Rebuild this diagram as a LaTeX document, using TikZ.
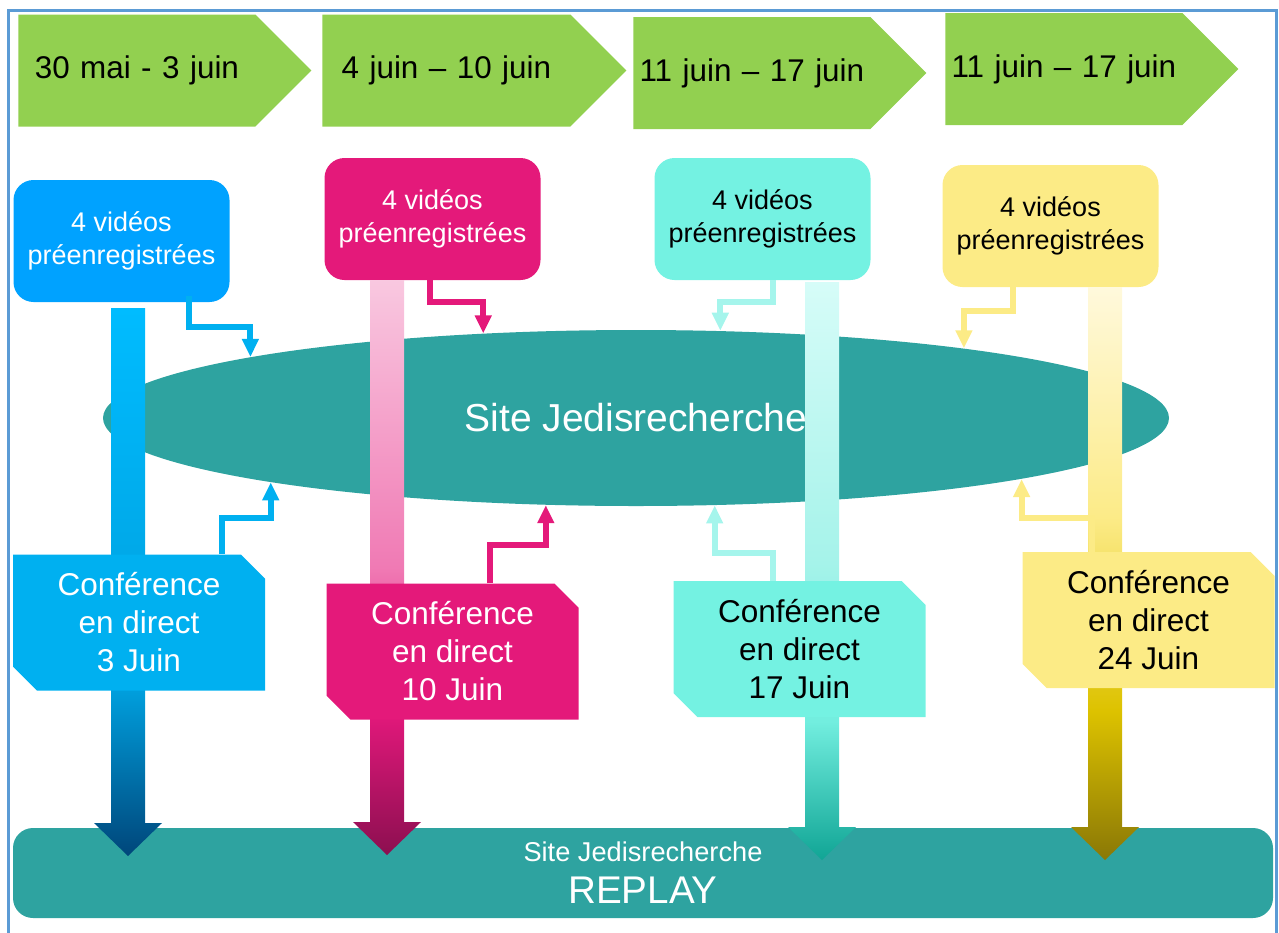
\documentclass[tikz,border=0pt]{standalone}
\usepackage{fontspec}
\setmainfont{Liberation Sans}
\usetikzlibrary{shapes.misc,shapes.symbols,shapes.geometric,arrows.meta,calc}
\definecolor{weekgreen}{HTML}{92D050}
\definecolor{framecol}{HTML}{5B9BD5}
\definecolor{siteteal}{HTML}{2EA3A0}
\definecolor{vblue}{HTML}{00A2FF}
\definecolor{cblue}{HTML}{00B0F0}
\definecolor{jmagenta}{HTML}{E4197A}
\definecolor{jturq}{HTML}{74F2E2}
\definecolor{eturq}{HTML}{A5F5EC}
\definecolor{jyellow}{HTML}{FCEB86}
\definecolor{barblueA}{HTML}{00467A}
\definecolor{barblueB}{HTML}{009EDC}
\definecolor{barblueC}{HTML}{00BCFF}
\definecolor{barpinkA}{HTML}{8C0F50}
\definecolor{barpinkB}{HTML}{E0187A}
\definecolor{barpinkC}{HTML}{F07AB4}
\definecolor{barpinkD}{HTML}{F9C8E0}
\definecolor{barturqA}{HTML}{10A595}
\definecolor{barturqB}{HTML}{72EEDF}
\definecolor{barturqC}{HTML}{A6F3EA}
\definecolor{barturqD}{HTML}{D6FCF8}
\definecolor{baryelA}{HTML}{8A7806}
\definecolor{baryelB}{HTML}{DDC200}
\definecolor{baryelC}{HTML}{FCEB88}
\definecolor{baryelD}{HTML}{FFF9DC}
\pgfdeclareverticalshading{barblue}{100bp}{color(0bp)=(barblueA); color(25bp)=(barblueA); color(40bp)=(barblueB); color(75bp)=(barblueC); color(100bp)=(barblueC)}
\pgfdeclareverticalshading{barpink}{100bp}{color(0bp)=(barpinkA); color(25bp)=(barpinkA); color(37bp)=(barpinkB); color(50bp)=(barpinkC); color(75bp)=(barpinkD); color(100bp)=(barpinkD)}
\pgfdeclareverticalshading{barturq}{100bp}{color(0bp)=(barturqA); color(25bp)=(barturqA); color(37bp)=(barturqB); color(51bp)=(barturqC); color(75bp)=(barturqD); color(100bp)=(barturqD)}
\pgfdeclareverticalshading{baryellow}{100bp}{color(0bp)=(baryelA); color(25bp)=(baryelA); color(38bp)=(baryelB); color(55bp)=(baryelC); color(75bp)=(baryelD); color(100bp)=(baryelD)}
\tikzset{
    week-box/.style = {signal, signal to=east, signal pointer angle=90, fill=weekgreen, inner xsep=0pt, minimum height=56pt, align=center, font=\fontsize{15.7}{19}\selectfont},
    video-box/.style = {fill=#1, rounded corners=10pt, minimum width=108pt, minimum height=61pt, inner sep=0pt, align=center, font=\fontsize{13.5}{16.5}\selectfont},
    conf-box/.style = {chamfered rectangle, chamfered rectangle corners={north east,south west}, chamfered rectangle xsep=5.5pt, chamfered rectangle ysep=6.5pt, fill=#1, minimum width=126pt, minimum height=68pt, inner sep=0pt, align=center, font=\fontsize{15.75}{19}\selectfont},
    elbow-arrow/.style = {draw=#1, line width=3pt, -{Triangle[width=8pt,length=9pt]}},
}
\begin{document}
\begin{tikzpicture}[x=0.5pt, y=-0.5pt]
\useasboundingbox (0,0) rectangle (1279,932);
\draw[framecol, line width=1.5pt] (8,10) rectangle (1276,960);

\node[week-box, text width=118.5pt, anchor=west] (w1) at (18,70.5) {30 mai - 3 juin};
\node[week-box, text width=124pt, anchor=west] (w2) at (322,70.5) {4 juin -- 10 juin};
\node[week-box, text width=118.5pt, anchor=west] (w3) at (633,73) {11 juin -- 17 juin};
\node[week-box, text width=118.5pt, anchor=west] (w4) at (945,69) {11 juin -- 17 juin};

\node[video-box=vblue, text=white] (v1) at (121.5,241) {4 vidéos\\préenregistrées};
\node[video-box=jmagenta, text=white] (v2) at (432.5,219) {4 vidéos\\préenregistrées};
\node[video-box=jturq] (v3) at (762.5,219) {4 vidéos\\préenregistrées};
\node[video-box=jyellow] (v4) at (1050.5,226) {4 vidéos\\préenregistrées};

\node[rectangle, rounded corners=10pt, fill=siteteal, minimum width=630pt, minimum height=45pt, text=white, align=center] (replay) at (643,873)
    {\fontsize{13.6}{16}\selectfont Site Jedisrecherche\\[6.5pt]\fontsize{19.3}{22}\selectfont REPLAY};
\node[ellipse, fill=siteteal, minimum width=533pt, minimum height=88pt, inner sep=0pt, text=white, font=\fontsize{19.5}{23}\selectfont] (site) at (636,418) {Site Jedisrecherche};

\foreach \x/\top/\tip/\sh in {128/308/856/barblue, 387/280/855/barpink, 822/282/860/barturq, 1105/287/860/baryellow}
    \shade[shading=\sh] (\x-17,\top) -- (\x+17,\top) -- (\x+17,\tip-33) -- (\x+34,\tip-33) -- (\x,\tip) -- (\x-34,\tip-33) -- (\x-17,\tip-33) -- cycle;

\node[conf-box=cblue, text=white] (c1) at (139,622.5) {Conférence\\en direct\\3 Juin};
\node[conf-box=jmagenta, text=white] (c2) at (452.5,651.5) {Conférence\\en direct\\10 Juin};
\node[conf-box=jturq] (c3) at (799.5,649) {Conférence\\en direct\\17 Juin};
\node[conf-box=jyellow] (c4) at (1148.5,620) {Conférence\\en direct\\24 Juin};

\draw[elbow-arrow=cblue] ($(v1.south)+(67.5,-6)$) -- ++(0,31) -| (site.171);
\draw[elbow-arrow=jmagenta] ($(v2.south)+(-2.5,0)$) -- ++(0,22) -| (site.151);
\draw[elbow-arrow=eturq] ($(v3.south)+(10.5,0)$) -- ++(0,22) -| (site.46);
\draw[elbow-arrow=jyellow] ($(v4.south)+(-37.5,0)$) -- ++(0,24) -| (site.12);

\draw[elbow-arrow=cblue] ($(c1.north)+(83,0)$) -- ++(0,-36) -| (site.190.5);
\draw[elbow-arrow=jmagenta] ($(c2.north)+(37.5,0)$) -- ++(0,-38) -| (site.224.6);
\draw[elbow-arrow=eturq] ($(c3.north)+(-26.5,0)$) -- ++(0,-28) -| (site.312.6);
\draw[elbow-arrow=jyellow] ($(c4.north)+(-56.5,0)$) -- ++(0,-34) -| (site.351.7);
\end{tikzpicture}
\end{document}
